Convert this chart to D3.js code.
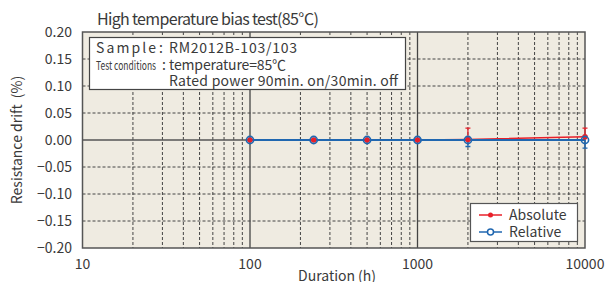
<!DOCTYPE html>
<html><head><meta charset="utf-8">
<script src="https://cdn.jsdelivr.net/npm/d3@7"></script>
<style>
body{margin:0;background:#fff;}
svg{display:block;}
text{font-family:"Noto Sans CJK JP","Noto Sans",sans-serif;fill:#3a3a3a;}
</style></head><body>
<svg id="c" width="608" height="282"></svg>
<script>
const durations = [100, 240, 500, 1000, 2000, 10000];
const absoluteVals = [0, 0, 0, 0, 0.001, 0.006];
const absoluteHigh = [0, 0, 0, 0, 0.022, 0.022];
const relativeVals = [0, 0, 0, 0, 0, 0];
const relativeLow = [0, 0, 0, 0, -0.012, -0.015];
const yTicks = [0.20, 0.15, 0.10, 0.05, 0.00, -0.05, -0.10, -0.15, -0.20];
const xTicks = [10, 100, 1000, 10000];
const seriesNames = ["Absolute", "Relative"];

const svg = d3.select("#c");
const L = 82.5, R = 585, T = 32, B = 248;
const x = d3.scaleLog().domain([10, 10000]).range([L, R]);
const y = d3.scaleLinear().domain([-0.2, 0.2]).range([B, T]);
const red = "#e8202a", blue = "#2067b0", grid = "#444";

svg.append("rect").attr("x", L).attr("y", T).attr("width", R - L).attr("height", B - T).attr("fill", "#efebe1");

// minor vertical grid
const minor = [];
for (let d = 10; d < 10000; d *= 10) for (let k = 2; k <= 9; k++) minor.push(d * k);
svg.append("g").selectAll("line").data(minor).join("line")
  .attr("x1", d => x(d)).attr("x2", d => x(d)).attr("y1", T).attr("y2", B)
  .attr("stroke", grid).attr("stroke-width", 1).attr("stroke-dasharray", "3,2");
// horizontal grid
svg.append("g").selectAll("line").data(yTicks.filter(v => v !== 0 && Math.abs(v) < 0.2)).join("line")
  .attr("x1", L).attr("x2", R).attr("y1", d => y(d)).attr("y2", d => y(d))
  .attr("stroke", grid).attr("stroke-width", 1).attr("stroke-dasharray", "3,2");
// major verticals
svg.append("g").selectAll("line").data([100, 1000]).join("line")
  .attr("x1", d => x(d)).attr("x2", d => x(d)).attr("y1", T).attr("y2", B)
  .attr("stroke", "#444").attr("stroke-width", 1.3);
// zero line
svg.append("line").attr("x1", L).attr("x2", R).attr("y1", y(0)).attr("y2", y(0))
  .attr("stroke", "#555").attr("stroke-width", 1.5);
// border
svg.append("rect").attr("x", L).attr("y", T).attr("width", R - L).attr("height", B - T)
  .attr("fill", "none").attr("stroke", "#555").attr("stroke-width", 1.5);

// axes labels
svg.append("g").selectAll("text").data(yTicks).join("text")
  .attr("x", 72).attr("y", d => y(d) + 5).attr("text-anchor", "end").attr("font-size", 14)
  .text(d => (d < 0 ? "\u2212" : "") + Math.abs(d).toFixed(2));
svg.append("g").selectAll("text").data(xTicks).join("text")
  .attr("x", d => x(d)).attr("y", 269).attr("text-anchor", "middle").attr("font-size", 14)
  .text(d => d);
svg.append("text").attr("x", 337).attr("y", 281).attr("text-anchor", "middle").attr("font-size", 14).text("Duration\u2009(h)");
svg.append("text").attr("transform", "translate(22,140) rotate(-90)").attr("text-anchor", "middle").attr("font-size", 14).text("Resistance drift\u2009 (%)");
svg.append("text").attr("x", 97).attr("y", 25).attr("font-size", 16)
  .attr("textLength", 222).attr("lengthAdjust", "spacing").text("High temperature bias test(85\u2103)");

// annotation box
const ab = svg.append("g");
ab.append("rect").attr("x", 89.5).attr("y", 37.5).attr("width", 316).attr("height", 52).attr("fill", "#fff").attr("stroke", "#444").attr("stroke-width", 1.2);
ab.append("text").attr("x", 96).attr("y", 53).attr("font-size", 14).attr("textLength", 60).attr("lengthAdjust", "spacing").text("Sample");
ab.append("text").attr("x", 159).attr("y", 53).attr("font-size", 14).text(":");
ab.append("text").attr("x", 169).attr("y", 53).attr("font-size", 14).attr("textLength", 128).attr("lengthAdjust", "spacing").text("RM2012B-103/103");
ab.append("text").attr("x", 96).attr("y", 70).attr("font-size", 12).attr("transform", "translate(96,0) scale(0.71,1) translate(-96,0)").text("Test conditions");
ab.append("text").attr("x", 162).attr("y", 70).attr("font-size", 14).text(":");
ab.append("text").attr("x", 169).attr("y", 70).attr("font-size", 14).attr("textLength", 117).attr("lengthAdjust", "spacing").text("temperature=85\u2103");
ab.append("text").attr("x", 169).attr("y", 86).attr("font-size", 14).attr("textLength", 229).attr("lengthAdjust", "spacing").text("Rated power 90min. on/30min. off");

// data
const idx = d3.range(durations.length);
const line = d3.line().x(i => x(durations[i]));
// absolute series
svg.append("path").attr("d", line.y(i => y(absoluteVals[i]))(idx)).attr("fill", "none").attr("stroke", red).attr("stroke-width", 1.5);
const errA = idx.filter(i => absoluteHigh[i] !== absoluteVals[i]);
svg.append("g").selectAll("path").data(errA).join("path")
  .attr("d", i => `M${x(durations[i])},${y(absoluteVals[i])}V${y(absoluteHigh[i])}M${x(durations[i]) - 2.5},${y(absoluteHigh[i])}h5`)
  .attr("stroke", red).attr("stroke-width", 1.3).attr("fill", "none");
// relative series
svg.append("path").attr("d", line.y(i => y(relativeVals[i]))(idx)).attr("fill", "none").attr("stroke", blue).attr("stroke-width", 2);
const errR = idx.filter(i => relativeLow[i] !== relativeVals[i]);
svg.append("g").selectAll("path").data(errR).join("path")
  .attr("d", i => `M${x(durations[i])},${y(relativeVals[i])}V${y(relativeLow[i])}M${x(durations[i]) - 2.5},${y(relativeLow[i])}h5`)
  .attr("stroke", blue).attr("stroke-width", 1.3).attr("fill", "none");
svg.append("g").selectAll("circle").data(idx).join("circle")
  .attr("cx", i => x(durations[i])).attr("cy", i => y(absoluteVals[i])).attr("r", 2.8).attr("fill", red);
svg.append("g").selectAll("circle").data(idx).join("circle")
  .attr("cx", i => x(durations[i])).attr("cy", i => y(relativeVals[i])).attr("r", 3.6)
  .attr("fill", "none").attr("stroke", blue).attr("stroke-width", 1.6);

// legend
const lg = svg.append("g");
lg.append("rect").attr("x", 470.5).attr("y", 203.5).attr("width", 107).attr("height", 38).attr("fill", "#fff").attr("stroke", "#555").attr("stroke-width", 1.2);
[red, blue].forEach((c, k) => {
  const yy = 215 + k * 17;
  lg.append("line").attr("x1", 479).attr("x2", 502).attr("y1", yy).attr("y2", yy).attr("stroke", c).attr("stroke-width", 1.5);
  if (k === 0) lg.append("circle").attr("cx", 490.5).attr("cy", yy).attr("r", 2.5).attr("fill", c);
  else lg.append("circle").attr("cx", 490.5).attr("cy", yy).attr("r", 3).attr("fill", "#fff").attr("stroke", c).attr("stroke-width", 1.5);
  lg.append("text").attr("x", 509).attr("y", yy + 5).attr("font-size", 14).text(seriesNames[k]);
});
</script></body></html>
